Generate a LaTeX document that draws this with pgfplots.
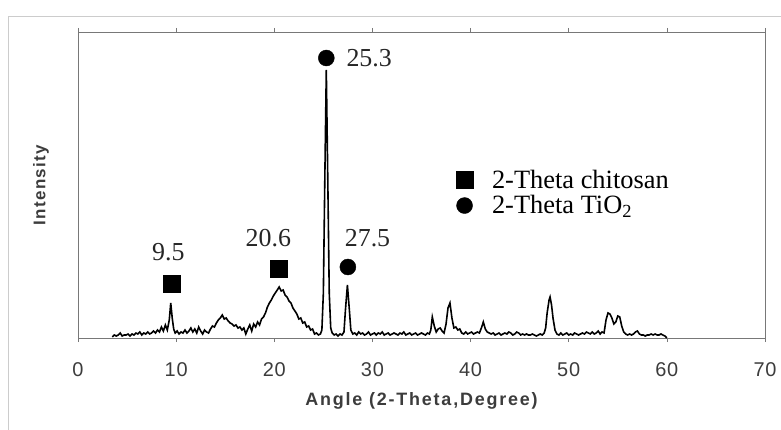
\documentclass[border=0pt]{standalone}
\usepackage{fontspec}
\setmainfont{Liberation Serif}
\setsansfont{Liberation Sans}
\usepackage{pgfplots}
\usepackage{pgfplotstable}
\pgfplotsset{compat=1.18}
\definecolor{axgray}{RGB}{120,120,120}
\definecolor{tickgray}{RGB}{60,60,60}
\pgfplotstableread{
x y
3.5 1
3.7 3
3.9 2
4.1 3
4.3 5
4.5 2
4.7 3
4.9 3
5.1 4
5.3 2
5.5 4
5.7 3
5.9 5
6.1 4
6.3 6
6.5 3
6.7 5
6.9 4
7.1 6
7.3 4
7.5 5
7.7 7
7.9 5
8.1 8
8.3 6
8.5 11
8.7 7
8.9 13
9.1 8
9.3 18
9.45 35
9.6 20
9.75 9
9.9 5
10.1 7
10.3 4
10.5 6
10.7 5
10.9 8
11.1 5
11.3 7
11.5 10
11.7 6
11.9 9
12.1 5
12.3 11
12.5 7
12.7 4
12.9 8
13.1 6
13.3 5
13.5 9
13.7 12
13.9 11
14.1 15
14.3 18
14.5 20
14.7 23
14.9 19
15.1 20
15.3 17
15.5 15
15.7 14
15.9 12
16.1 13
16.3 10
16.5 11
16.7 8
16.9 10
17.1 4
17.3 9
17.5 13
17.7 7
17.9 14
18.1 11
18.3 16
18.5 13
18.7 19
18.9 21
19.1 25
19.3 31
19.5 35
19.7 38
19.9 42
20.1 45
20.3 48
20.5 51
20.7 47
20.9 48
21.1 43
21.3 41
21.5 37
21.7 35
21.9 30
22.1 27
22.3 24
22.5 19
22.7 20
22.9 15
23.1 16
23.3 11
23.5 12
23.7 8
23.9 9
24.1 4
24.3 5
24.5 3
24.7 4
24.85 8
25.0 45
25.15 160
25.3 268
25.45 160
25.6 45
25.75 10
25.9 5
26.1 3
26.3 4
26.5 2
26.7 4
26.9 3
27.1 6
27.25 28
27.45 53
27.65 28
27.8 8
28.0 4
28.2 5
28.4 3
28.6 6
28.8 4
29.0 5
29.2 3
29.4 4
29.6 6
29.8 3
30.0 4
30.2 5
30.4 3
30.6 5
30.8 4
31.0 6
31.2 3
31.4 4
31.6 5
31.8 3
32.0 4
32.2 5
32.4 4
32.6 3
32.8 5
33.0 4
33.2 6
33.4 3
33.6 4
33.8 5
34.0 3
34.2 4
34.4 5
34.6 3
34.8 4
35.0 5
35.2 4
35.4 3
35.6 5
35.8 4
35.95 8
36.1 21
36.3 12
36.5 6
36.7 9
36.9 10
37.1 7
37.3 5
37.5 14
37.7 30
37.9 35
38.1 20
38.3 10
38.5 11
38.7 8
38.9 9
39.1 5
39.3 4
39.5 6
39.7 4
39.9 5
40.1 6
40.3 4
40.5 5
40.7 6
40.9 5
41.1 10
41.3 16
41.5 9
41.7 6
41.9 5
42.1 4
42.3 5
42.5 3
42.7 4
42.9 5
43.1 3
43.3 4
43.5 5
43.7 4
43.9 6
44.1 5
44.3 3
44.5 4
44.7 6
44.9 5
45.1 3
45.3 4
45.5 3
45.7 4
45.9 3
46.1 3
46.3 4
46.5 3
46.7 2
46.9 3
47.1 4
47.3 3
47.5 5
47.65 10
47.8 25
48.0 38
48.1 41
48.25 33
48.4 20
48.6 8
48.8 4
49.0 3
49.2 5
49.4 3
49.6 4
49.8 5
50.0 3
50.2 4
50.4 3
50.6 5
50.8 4
51.0 3
51.2 4
51.4 5
51.6 4
51.8 6
52.0 5
52.2 4
52.4 6
52.6 4
52.8 5
53.0 7
53.2 4
53.4 6
53.6 5
53.8 18
54.0 25
54.2 24
54.4 20
54.6 14
54.8 16
55.0 22
55.2 21
55.4 12
55.6 6
55.8 4
56.0 3
56.2 4
56.4 3
56.6 4
56.8 6
57.0 7
57.2 4
57.4 3
57.6 3
57.8 2
58.0 3
58.2 3
58.4 4
58.6 3
58.8 4
59.0 3
59.2 3
59.4 4
59.6 3
59.8 2
60.0 0
}\xrd
\begin{document}
\begin{tikzpicture}
\path[use as bounding box] (0,0) rectangle (781bp,430bp);
\draw[black!20, line width=0.8bp] (8bp,0) -- (8bp,414bp) -- (781bp,414bp);
\begin{axis}[
  at={(78bp,92bp)}, anchor=south west,
  scale only axis, width=687bp, height=306bp,
  xmin=0, xmax=70, ymin=0, ymax=306,
  axis line style={axgray, line width=0.7bp},
  xtick={0,10,...,70}, ytick=\empty,
  xtick style={axgray, line width=0.6bp},
  tick align=outside, major tick length=4bp,
  /pgf/number format/assume math mode=true,
  xticklabel style={font=\sffamily\fontsize{20}{22}\selectfont\addfontfeature{LetterSpace=4}, text=tickgray, anchor=center, yshift=-28bp},
  xlabel={\addfontfeature{LetterSpace=10}Angle (2-Theta,Degree)},
  ylabel={\addfontfeature{LetterSpace=8}Intensity},
  xlabel style={font=\sffamily\bfseries\fontsize{18}{20}\selectfont, text=tickgray, at={(axis description cs:0.5,-0.206)}, anchor=center},
  ylabel style={font=\sffamily\bfseries\fontsize{17}{20}\selectfont, text=tickgray, at={(axis description cs:-0.054,0.5)}, anchor=center},
  legend style={draw=none, fill=none, at={(rel axis cs:0.55,0.475)}, anchor=west,
    font=\fontsize{26.5}{29}\selectfont, row sep=2bp, inner sep=0pt},
  legend cell align=left,
  clip=false,
]
\addplot[black, line width=1.6bp, forget plot] table[x=x,y=y]{\xrd};
\addplot[only marks, mark=square*, mark size=8.5bp, black] coordinates {(9.5,54) (20.4,69)};
\addlegendentry{\hspace{17bp}2-Theta chitosan}
\addplot[only marks, mark=*, mark size=8bp, black] coordinates {(25.3,280) (27.5,71)};
\addlegendentry{\hspace{17bp}2-Theta TiO\textsubscript{2}}
\node[font=\fontsize{26}{28}\selectfont, text=black!85] at (axis cs:9.2,86) {9.5};
\node[font=\fontsize{26}{28}\selectfont, text=black!85] at (axis cs:19.4,100) {20.6};
\node[font=\fontsize{26}{28}\selectfont, text=black!85] at (axis cs:29.5,100) {27.5};
\node[font=\fontsize{26}{28}\selectfont, text=black!85, anchor=west] at (axis cs:27.0,280) {25.3};
\end{axis}
\end{tikzpicture}
\end{document}
